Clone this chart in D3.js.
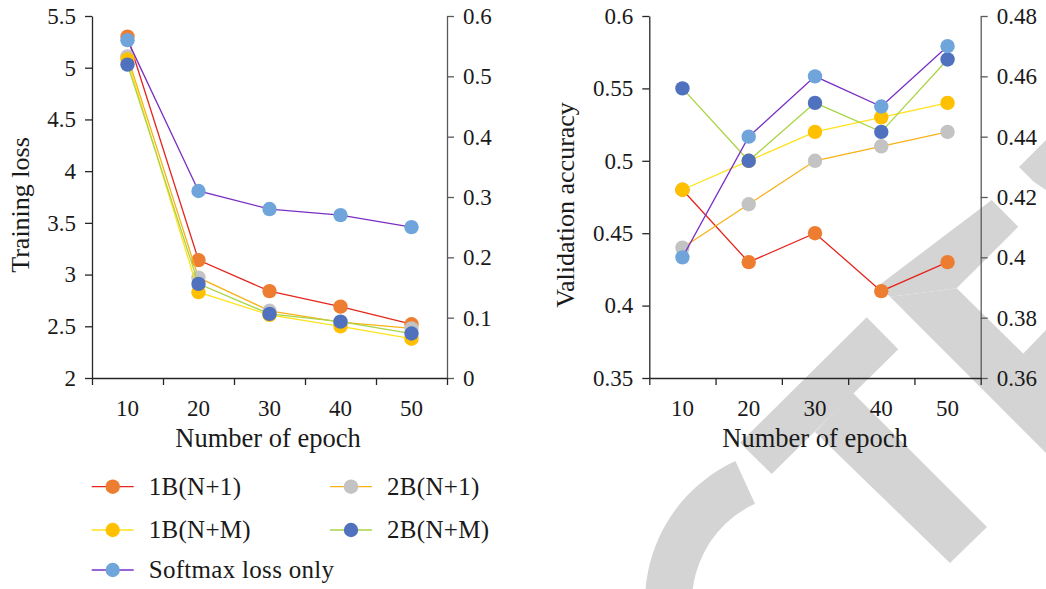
<!DOCTYPE html>
<html><head><meta charset="utf-8">
<script src="https://cdn.jsdelivr.net/npm/d3@7"></script>
<style>
body{margin:0;background:#fff}
text{font-family:"Liberation Serif","Times New Roman",serif;fill:#1a1a1a}
</style>
</head><body>
<svg id="c" width="1046" height="589"></svg>
<script>
// ---------- data ----------
const epochs = [10, 20, 30, 40, 50];
const seriesNames = ["1B(N+1)", "2B(N+1)", "1B(N+M)", "2B(N+M)", "Softmax loss only"];
const lineColors = ["#e4261c", "#f7b219", "#ffe21a", "#a9d444", "#7a2fc4"];
const markerColors = ["#ed7d31", "#c3c3c3", "#ffc000", "#4f71be", "#70a5dc"];

// Training loss (primary axis) and softmax-only (secondary axis)
const loss1BN1 = [5.30, 3.14, 2.84, 2.69, 2.52];
const loss2BN1 = [5.11, 2.97, 2.65, 2.54, 2.48];
const loss1BNM = [5.08, 2.83, 2.61, 2.50, 2.38];
const loss2BNM = [5.03, 2.91, 2.62, 2.545, 2.43];
const lossSoftmax = [0.56, 0.31, 0.28, 0.27, 0.25];

// Validation accuracy (primary axis) and softmax-only (secondary axis)
const acc1BN1 = [0.48, 0.43, 0.45, 0.41, 0.43];
const acc2BN1 = [0.44, 0.47, 0.50, 0.51, 0.52];
const acc1BNM = [0.48, 0.50, 0.52, 0.53, 0.54];
const acc2BNM = [0.55, 0.50, 0.54, 0.52, 0.57];
const accSoftmax = [0.40, 0.44, 0.46, 0.45, 0.47];

const lossTicks = [2, 2.5, 3, 3.5, 4, 4.5, 5, 5.5];
const lossTicks2 = [0, 0.1, 0.2, 0.3, 0.4, 0.5, 0.6];
const accTicks = [0.35, 0.4, 0.45, 0.5, 0.55, 0.6];
const accTicks2 = [0.36, 0.38, 0.4, 0.42, 0.44, 0.46, 0.48];

const xTitle = "Number of epoch";
const yTitleLeft = "Training loss";
const yTitleRight = "Validation accuracy";

// ---------- drawing ----------
const svg = d3.select("#c");
const fmt = d3.format("~g");
const FONT = '"Liberation Serif","Times New Roman",serif';

// watermark (background decoration)
const wm = svg.append("g").attr("fill", "#d4d4d4");
const polys = [
  [[866.7,317.3],[898.3,349.3],[771.7,474],[740,442.7]],
  [[853,393],[987,527],[950,563],[815,432]],
  [[991.7,200],[1018.3,226.7],[956.7,288.3],[890,296.7],[878,286]],
  [[890,296.7],[956.7,288.3],[1050,380],[1050,457]],
  [[1019,167],[1046,140],[1046,190],[1034,182]],
  [[1020,357],[1046,330],[1046,382],[1036,372]]
];
polys.forEach(p => wm.append("path").attr("d", d3.line()(p) + "Z"));
wm.append("path")
  .attr("transform", "translate(800,602)")
  .attr("d", d3.arc()({innerRadius: 108, outerRadius: 155, startAngle: -2.2, endAngle: -0.43}));

function chart(opts) {
  const {x0, x1, y0, y1, prim, sec, domain, domain2, ticks, ticks2, yTitle, yTitleX, xTitleX} = opts;
  const g = svg.append("g");
  const xb = d3.scaleBand().domain(epochs).range([x0, x1]);
  const xEdge = d3.scaleLinear().domain([0, epochs.length]).range([x0, x1]);
  const y = d3.scaleLinear().domain(domain).range([y1, y0]);
  const y2 = d3.scaleLinear().domain(domain2).range([y1, y0]);
  const cx = d => xb(d) + xb.bandwidth() / 2;

  // axes
  const aL = g.append("g").attr("transform", `translate(${x0},0)`)
    .call(d3.axisLeft(y).tickValues(ticks).tickFormat(fmt).tickSize(7).tickSizeOuter(0).tickPadding(9));
  const aR = g.append("g").attr("transform", `translate(${x1},0)`)
    .call(d3.axisRight(y2).tickValues(ticks2).tickFormat(fmt).tickSize(7).tickSizeOuter(0).tickPadding(9));
  const aBt = g.append("g").attr("transform", `translate(0,${y1})`)
    .call(d3.axisBottom(xEdge).ticks(epochs.length).tickFormat("").tickSize(7).tickSizeOuter(0));
  const aBl = g.append("g").attr("transform", `translate(0,${y1})`)
    .call(d3.axisBottom(xb).tickSize(0).tickPadding(22));
  aBl.select(".domain").remove();
  [aL, aBt].forEach(a => { a.selectAll("path,line").attr("stroke", "#262626").attr("stroke-width", 1.3); });
  aR.selectAll("path,line").attr("stroke", "#5a5a5a").attr("stroke-width", 1.3);
  g.selectAll("g").attr("font-family", FONT);
  g.selectAll(".tick text").style("font-size", "23px").style("font-family", FONT).attr("fill", "#1a1a1a");

  g.append("text").attr("x", xTitleX).attr("y", 447).attr("text-anchor", "middle")
    .style("font-family", FONT).style("font-size", "26.5px").text(xTitle);
  g.append("text").attr("transform", `translate(${yTitleX},${(y0 + y1) / 2 + 8}) rotate(-90)`)
    .attr("text-anchor", "middle").style("font-family", FONT).style("font-size", "26px").text(yTitle);

  const all = prim.map(v => ({vals: v, s: y})).concat([{vals: sec, s: y2}]);
  all.forEach((ser, i) => {
    const line = d3.line().x((d, j) => cx(epochs[j])).y(d => ser.s(d));
    g.append("path").attr("d", line(ser.vals)).attr("fill", "none")
      .attr("stroke", lineColors[i]).attr("stroke-width", 1.3);
    g.selectAll(null).data(ser.vals).enter().append("circle")
      .attr("cx", (d, j) => cx(epochs[j])).attr("cy", d => ser.s(d)).attr("r", 7.2)
      .attr("fill", markerColors[i]);
  });
}

chart({x0: 92, x1: 447, y0: 16, y1: 378, prim: [loss1BN1, loss2BN1, loss1BNM, loss2BNM], sec: lossSoftmax,
  domain: [2, 5.5], domain2: [0, 0.6], ticks: lossTicks, ticks2: lossTicks2,
  yTitle: yTitleLeft, yTitleX: 29, xTitleX: 268});
chart({x0: 649.3, x1: 980.7, y0: 16, y1: 378, prim: [acc1BN1, acc2BN1, acc1BNM, acc2BNM], sec: accSoftmax,
  domain: [0.35, 0.6], domain2: [0.36, 0.48], ticks: accTicks, ticks2: accTicks2,
  yTitle: yTitleRight, yTitleX: 574, xTitleX: 815});

// legend
const legPos = [[91.7, 486.7], [330, 486.7], [91.7, 530], [330, 530], [91.7, 570]];
const leg = svg.append("g");
seriesNames.forEach((name, i) => {
  const [lx, ly] = legPos[i];
  leg.append("line").attr("x1", lx).attr("x2", lx + 42).attr("y1", ly).attr("y2", ly)
    .attr("stroke", lineColors[i]).attr("stroke-width", 1.3);
  leg.append("circle").attr("cx", lx + 21).attr("cy", ly).attr("r", 7.2).attr("fill", markerColors[i]);
  leg.append("text").attr("x", lx + 57).attr("y", ly + 8).style("font-family", FONT)
    .style("font-size", "25px").style("letter-spacing", "0.3px").text(name);
});
</script>
</body></html>
